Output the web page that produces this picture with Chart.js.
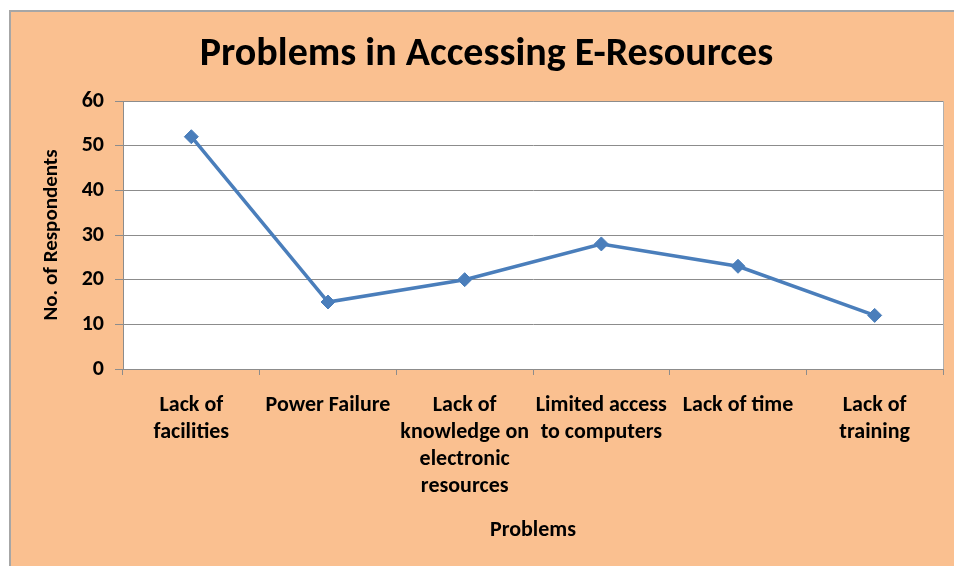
<!DOCTYPE html>
<html lang="en">
<head>
<meta charset="UTF-8">
<title>Problems in Accessing E-Resources</title>
<script src="https://cdn.jsdelivr.net/npm/chart.js@4.4.1/dist/chart.umd.min.js"></script>
<style>
  html, body { margin: 0; padding: 0; background: #fff; overflow: hidden; }
  .moldura {
    position: absolute; left: 9px; top: 10px;
    width: 943px; height: 554px;
    background: #FAC090;
    border-left: 2px solid #A6A6A6;
    border-top: 2px solid #A6A6A6;
  }
  canvas { display: block; }
</style>
</head>
<body>
<div class="moldura">
  <canvas id="graficoProblemas" width="943" height="554"></canvas>
</div>
<script>
// Dados do gráfico
const categorias = [
  ['Lack of', 'facilities'],
  ['Power Failure'],
  ['Lack of', 'knowledge on', 'electronic', 'resources'],
  ['Limited access', 'to computers'],
  ['Lack of time'],
  ['Lack of', 'training']
];
const respondentes = [52, 15, 20, 28, 23, 12];
const ticksY = [0, 10, 20, 30, 40, 50, 60];

const fonte = "'Carlito', 'Lato', 'Open Sans', sans-serif";
const cinzaGrade = '#8C8C8C';
const azulLinha = '#4A7EBB';

// Fundo branco e moldura da área de plotagem
const areaPlotagem = {
  id: 'areaPlotagem',
  beforeDraw(chart) {
    const { ctx, chartArea: a } = chart;
    ctx.save();
    ctx.fillStyle = '#ffffff';
    ctx.fillRect(a.left, a.top, a.right - a.left, a.bottom - a.top);
    ctx.strokeStyle = '#B0B0B0';
    ctx.lineWidth = 1;
    ctx.strokeRect(a.left + 0.5, a.top + 0.5, a.right - a.left, a.bottom - a.top);
    ctx.restore();
  }
};

const ctx = document.getElementById('graficoProblemas').getContext('2d');
new Chart(ctx, {
  type: 'line',
  data: {
    labels: categorias,
    datasets: [{
      label: 'No. of Respondents',
      data: respondentes,
      borderColor: azulLinha,
      backgroundColor: azulLinha,
      borderWidth: 3.5,
      pointStyle: 'rectRot',
      pointRadius: 7,
      pointBorderWidth: 1,
      tension: 0
    }]
  },
  options: {
    responsive: false,
    animation: false,
    // padding à esquerda só para deslocar o título; a largura do eixo Y compensa
    layout: { padding: { left: 19, right: 11, top: 0, bottom: 0 } },
    plugins: {
      legend: { display: false },
      tooltip: { enabled: false },
      title: {
        display: true,
        text: 'Problems in Accessing E-Resources',
        color: '#000',
        font: { family: fonte, size: 40, weight: 'bold', lineHeight: 1.2 },
        padding: { top: 19, bottom: 22 }
      }
    },
    scales: {
      x: {
        offset: true,
        afterFit: (s) => { s.height = 197; },
        grid: {
          offset: true,
          drawOnChartArea: false,
          drawTicks: true,
          tickLength: 6,
          tickColor: cinzaGrade
        },
        border: { color: cinzaGrade, width: 1 },
        ticks: {
          color: '#000',
          padding: 17,
          maxRotation: 0,
          autoSkip: false,
          font: { family: fonte, size: 22, weight: 'bold', lineHeight: 1.23 }
        },
        title: {
          display: true,
          text: 'Problems',
          color: '#000',
          font: { family: fonte, size: 22, weight: 'bold', lineHeight: 1.2 },
          padding: { top: 0, bottom: 22 }
        }
      },
      y: {
        min: 0,
        max: 60,
        afterFit: (s) => { s.width = 93; },
        afterBuildTicks: (s) => { s.ticks = ticksY.map(v => ({ value: v })); },
        grid: {
          color: cinzaGrade,
          tickLength: 8,
          tickColor: cinzaGrade
        },
        border: { color: cinzaGrade, width: 1 },
        ticks: {
          color: '#000',
          padding: 11,
          font: { family: fonte, size: 22, weight: 'bold' }
        },
        title: {
          display: true,
          text: 'No. of Respondents',
          color: '#000',
          font: { family: fonte, size: 21, weight: 'bold', lineHeight: 1.2 },
          padding: { top: 9, bottom: 0 }
        }
      }
    }
  },
  plugins: [areaPlotagem]
});
</script>
</body>
</html>
